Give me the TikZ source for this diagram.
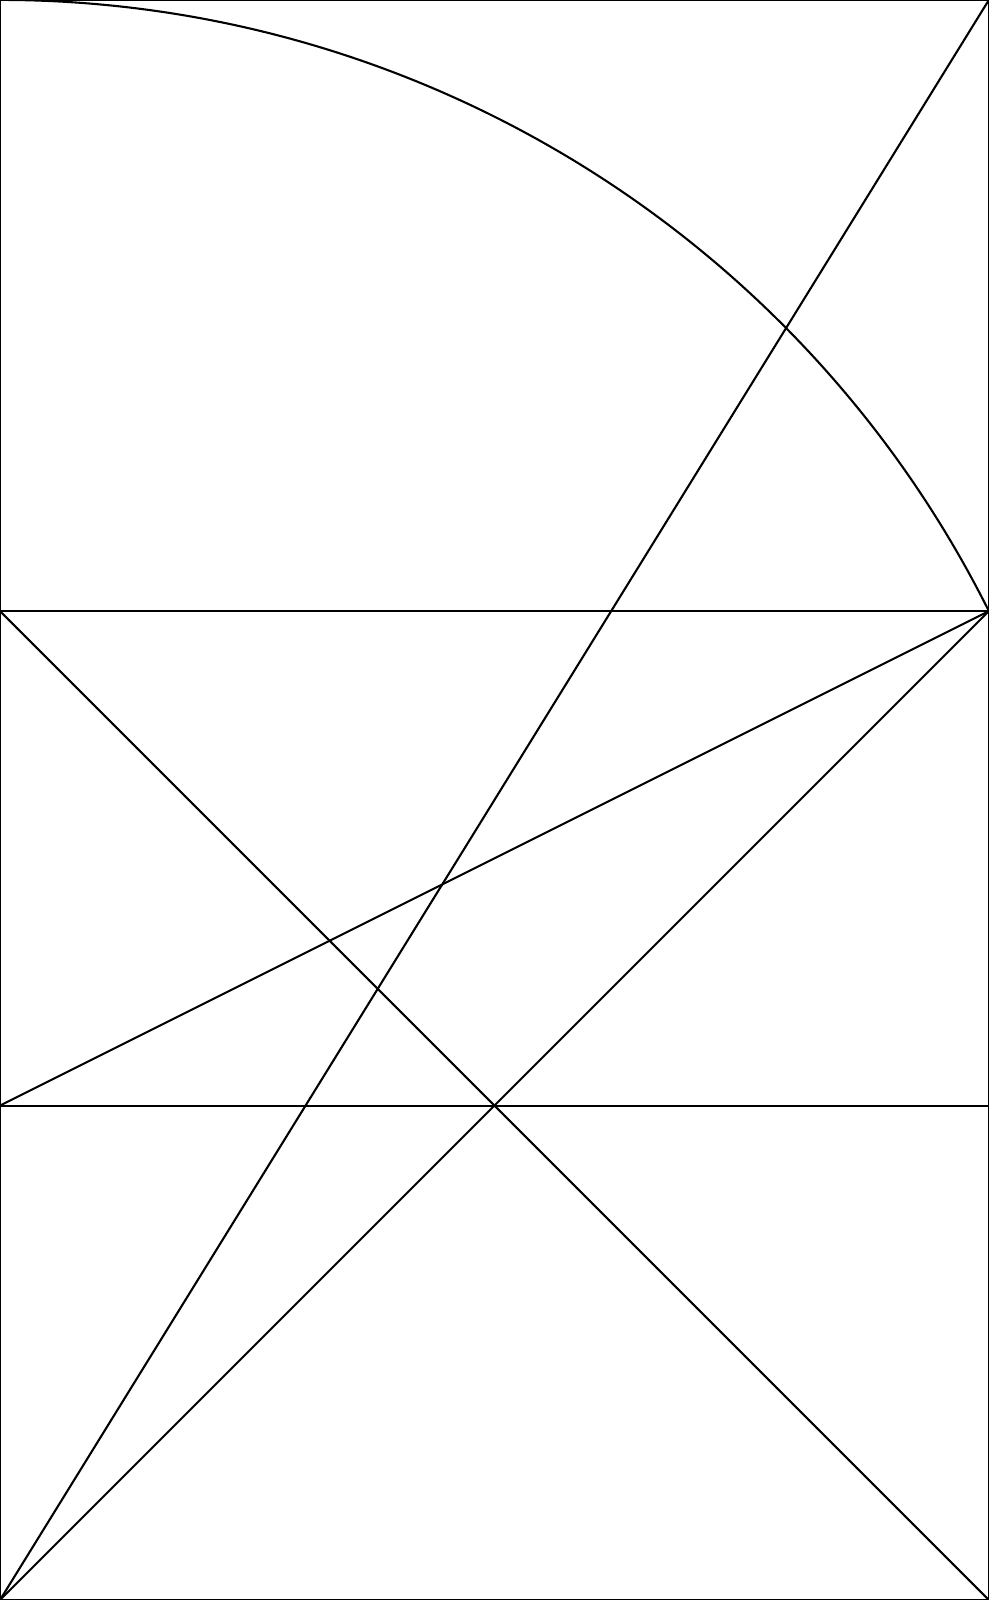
\documentclass[tikz,border=0pt]{standalone}
\begin{document}
\begin{tikzpicture}[geo/.style={line width=0.6pt, black}]
\pgfmathsetmacro{\ph}{10*(1+sqrt(5))/2}
\coordinate (BL) at (0,0);
\coordinate (BR) at (10,0);
\coordinate (SL) at (0,10);
\coordinate (SR) at (10,10);
\coordinate (ML) at (0,5);
\coordinate (MR) at (10,5);
\coordinate (TL) at (0,\ph);
\coordinate (TR) at (10,\ph);
\useasboundingbox (BL) rectangle (TR);
\draw[geo] (BL) rectangle (TR);
\draw[geo] (SL) -- (SR);
\draw[geo] (ML) -- (MR);
\draw[geo] (SL) -- (BR);
\draw[geo] (BL) -- (SR);
\draw[geo] (BL) -- (TR);
\draw[geo] (ML) -- (SR);
\draw[geo] (SR) arc[start angle={atan(0.5)}, end angle=90, radius={5*sqrt(5)}];
\end{tikzpicture}
\end{document}
